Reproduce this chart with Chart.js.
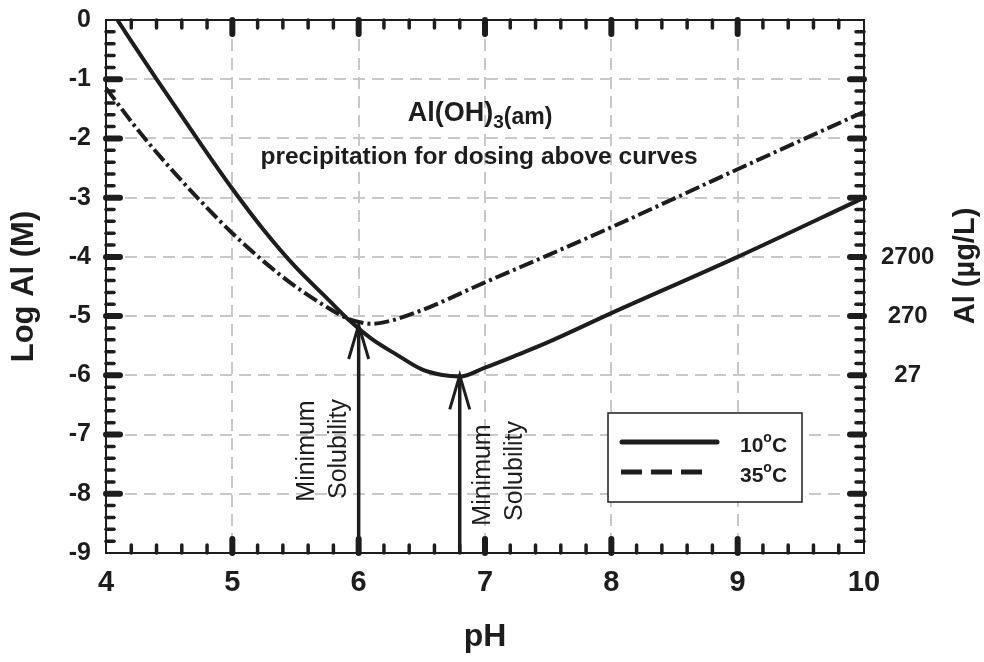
<!DOCTYPE html>
<html>
<head>
<meta charset="utf-8">
<script src="https://cdn.jsdelivr.net/npm/chart.js@4.4.0/dist/chart.umd.min.js"></script>
<style>
  html, body { margin: 0; padding: 0; background: #fff; }
</style>
</head>
<body>
<canvas id="chart" width="984" height="662"></canvas>
<script>
// 10 degC curve (solid)
const phCold = [4.09, 4.4, 4.72, 5.0, 5.25, 5.5, 5.75, 5.93, 6.1, 6.3, 6.5, 6.65, 6.8, 7.0, 7.25, 7.5, 8.0, 9.0, 10.0];
const logCold = [0, -1.0, -2.0, -2.85, -3.55, -4.17, -4.7, -5.08, -5.38, -5.65, -5.9, -5.99, -6.02, -5.87, -5.66, -5.44, -4.95, -4.0, -3.0];
// 35 degC curve (dashed)
const phWarm = [4.0, 4.25, 4.5, 4.75, 5.0, 5.25, 5.5, 5.75, 5.9, 6.0, 6.1, 6.25, 6.5, 7.0, 7.5, 8.0, 9.0, 10.0];
const logWarm = [-1.15, -1.85, -2.48, -3.06, -3.6, -4.08, -4.5, -4.85, -5.03, -5.1, -5.13, -5.08, -4.9, -4.43, -3.97, -3.5, -2.52, -1.55];

const seriesTemps = ['10', '35'];
const xTicks = [4, 5, 6, 7, 8, 9, 10];
const yTicks = [0, -1, -2, -3, -4, -5, -6, -7, -8, -9];
const rightTickValues = [-4, -5, -6];
const rightTickLabels = ['2700', '270', '27'];
const arrowPh = [6.0, 6.8];
const arrowTip = [-5.15, -6.0];

const FONT = "'Liberation Sans', Arial, Helvetica, sans-serif";
const INK = '#1d1d1d';

function pts(xs, ys) {
  return xs.map((v, i) => ({ x: v, y: ys[i] }));
}

// frame, inward ticks, arrows, labels and legend
const extras = {
  id: 'extras',
  afterDraw(chart) {
    const { ctx, chartArea: a } = chart;
    const x = chart.scales.x, y = chart.scales.y;
    const seg = (x1, y1, x2, y2) => { ctx.beginPath(); ctx.moveTo(x1, y1); ctx.lineTo(x2, y2); ctx.stroke(); };
    ctx.save();
    ctx.strokeStyle = INK;
    ctx.fillStyle = INK;

    ctx.lineWidth = 2;
    ctx.strokeRect(a.left, a.top, a.right - a.left, a.bottom - a.top);

    ctx.lineCap = 'round';
    for (let i = 1; i < 30; i++) {
      const major = i % 5 === 0;
      const px = x.getPixelForValue(4 + i * 0.2);
      const len = major ? 14 : 8;
      ctx.lineWidth = major ? 6 : 3.5;
      seg(px, a.bottom, px, a.bottom - len);
      seg(px, a.top, px, a.top + len);
    }
    for (let i = 1; i < 45; i++) {
      const major = i % 5 === 0;
      const py = y.getPixelForValue(-i * 0.2);
      const len = major ? 14 : 8;
      ctx.lineWidth = major ? 6 : 3.5;
      seg(a.left, py, a.left + len, py);
      seg(a.right, py, a.right - len, py);
    }

    // arrows
    ctx.lineCap = 'butt';
    arrowPh.forEach((ph, k) => {
      const px = x.getPixelForValue(ph);
      const y0 = y.getPixelForValue(-9);
      const y1 = y.getPixelForValue(arrowTip[k]);
      ctx.lineWidth = 3.5;
      seg(px, y0, px, y1 + 3);
      ctx.lineWidth = 3;
      ctx.beginPath();
      ctx.moveTo(px - 10, y1 + 34);
      ctx.lineTo(px, y1);
      ctx.lineTo(px + 10, y1 + 34);
      ctx.stroke();
    });

    const vtext = (str, cx, cy, font) => {
      ctx.save();
      ctx.translate(cx, cy);
      ctx.rotate(-Math.PI / 2);
      ctx.font = font;
      ctx.textAlign = 'center';
      ctx.textBaseline = 'middle';
      ctx.fillText(str, 0, 0);
      ctx.restore();
    };
    const noteFont = '25px ' + FONT;
    const ax1 = x.getPixelForValue(arrowPh[0]);
    const ax2 = x.getPixelForValue(arrowPh[1]);
    vtext('Minimum', ax1 - 52, 451, noteFont);
    vtext('Solubility', ax1 - 20, 449, noteFont);
    vtext('Minimum', ax2 + 23, 475, noteFont);
    vtext('Solubility', ax2 + 55, 471, noteFont);

    // right axis title, reading upwards
    vtext('Al (µg/L)', 966, 266, 'bold 29px ' + FONT);

    // Al(OH)3(am) with subscript
    ctx.textAlign = 'left';
    ctx.textBaseline = 'alphabetic';
    const parts = [
      ['Al(OH)', 'bold 27px ' + FONT, 0],
      ['3', 'bold 19px ' + FONT, 7],
      ['(am)', 'bold 23px ' + FONT, 3]
    ];
    let total = 0;
    parts.forEach(p => { ctx.font = p[1]; total += ctx.measureText(p[0]).width; });
    let tx = 480 - total / 2;
    parts.forEach(p => {
      ctx.font = p[1];
      ctx.fillText(p[0], tx, 121 + p[2]);
      tx += ctx.measureText(p[0]).width;
    });
    ctx.font = 'bold 24.5px ' + FONT;
    ctx.textAlign = 'center';
    ctx.fillText('precipitation for dosing above curves', 479, 164);

    // legend
    const lx = 608, ly = 413, lw = 194, lh = 89;
    ctx.fillStyle = '#fff';
    ctx.fillRect(lx, ly, lw, lh);
    ctx.lineWidth = 1.5;
    ctx.strokeRect(lx, ly, lw, lh);
    ctx.fillStyle = INK;
    ctx.lineCap = 'round';
    ctx.lineWidth = 5;
    seg(622, 442, 717, 442);
    ctx.setLineDash([21, 9]);
    ctx.lineCap = 'butt';
    seg(621, 472, 710, 472);
    ctx.setLineDash([]);
    seriesTemps.forEach((t, i) => {
      const by = 452 + i * 30;
      let cx = 740;
      ctx.textAlign = 'left';
      ctx.font = 'bold 21px ' + FONT;
      ctx.fillText(t, cx, by);
      cx += ctx.measureText(t).width;
      ctx.font = 'bold 14px ' + FONT;
      ctx.fillText('o', cx, by - 10);
      cx += ctx.measureText('o').width;
      ctx.font = 'bold 21px ' + FONT;
      ctx.fillText('C', cx, by);
    });
    ctx.restore();
  }
};

const gridStyle = { color: '#c8c8c8', lineWidth: 2, drawTicks: false };
const tickFont = { family: FONT, size: 25, weight: 'bold' };
const titleFont = { family: FONT, size: 31, weight: 'bold' };

new Chart(document.getElementById('chart'), {
  type: 'line',
  data: {
    datasets: [
      {
        label: seriesTemps[0] + '°C',
        data: pts(phCold, logCold),
        borderColor: INK,
        borderWidth: 4,
        pointRadius: 0,
        cubicInterpolationMode: 'monotone',
        fill: false
      },
      {
        label: seriesTemps[1] + '°C',
        data: pts(phWarm, logWarm),
        borderColor: INK,
        borderWidth: 4,
        borderDash: [15, 4, 3, 4],
        pointRadius: 0,
        cubicInterpolationMode: 'monotone',
        fill: false
      }
    ]
  },
  options: {
    responsive: false,
    animation: false,
    devicePixelRatio: 1,
    layout: { padding: { top: 20 } },
    plugins: { legend: { display: false }, tooltip: { enabled: false } },
    scales: {
      x: {
        type: 'linear',
        min: 4,
        max: 10,
        afterBuildTicks: s => { s.ticks = xTicks.map(v => ({ value: v })); },
        afterFit: s => { s.height = 109; s.paddingLeft = 0; s.paddingRight = 0; },
        grid: gridStyle,
        border: { display: false, dash: [12, 7] },
        ticks: { color: INK, font: { family: FONT, size: 29, weight: 'bold' }, padding: 13, maxRotation: 0 },
        title: { display: true, text: 'pH', color: INK, font: { family: FONT, size: 32, weight: 'bold' }, padding: { top: 0, bottom: 6 } }
      },
      y: {
        min: -9,
        max: 0,
        afterBuildTicks: s => { s.ticks = yTicks.map(v => ({ value: v })); },
        afterFit: s => { s.width = 106; s.paddingTop = 0; s.paddingBottom = 0; },
        grid: gridStyle,
        border: { display: false, dash: [12, 7] },
        ticks: { color: INK, font: tickFont, padding: 15, autoSkip: false },
        title: { display: true, text: 'Log Al (M)', color: INK, font: titleFont, padding: { top: 6, bottom: 0 } }
      },
      y2: {
        position: 'right',
        min: -9,
        max: 0,
        afterBuildTicks: s => { s.ticks = rightTickValues.map(v => ({ value: v })); },
        afterFit: s => { s.width = 120; s.paddingTop = 0; s.paddingBottom = 0; },
        grid: { display: false, drawTicks: false },
        border: { display: false },
        ticks: {
          color: INK,
          font: { family: FONT, size: 24, weight: 'bold' },
          padding: 17,
          crossAlign: 'center',
          autoSkip: false,
          callback: v => rightTickLabels[rightTickValues.indexOf(v)]
        }
      }
    }
  },
  plugins: [extras]
});
</script>
</body>
</html>
